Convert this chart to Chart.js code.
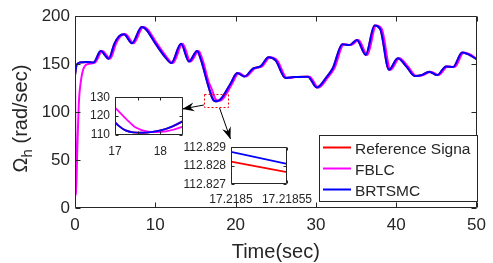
<!DOCTYPE html>
<html><head><meta charset="utf-8">
<script src="https://cdn.jsdelivr.net/npm/chart.js@4/dist/chart.umd.min.js"></script>
<style>
html,body{margin:0;padding:0;background:#fff;}
#wrap{position:relative;width:493px;height:263px;overflow:hidden;}
canvas{position:absolute;}
</style></head><body>
<div id="wrap">
<canvas id="main" style="left:0;top:0;"></canvas>
<canvas id="in1" style="left:75px;top:85px;"></canvas>
<canvas id="in2" style="left:170px;top:135px;"></canvas>
</div>
<script>
// ===== data =====
const mainXTicks = [0, 10, 20, 30, 40, 50];
const mainYTicks = [0, 50, 100, 150, 200];
const seriesLabels = ['Reference Signa', 'FBLC', 'BRTSMC'];

const brtsmcT = [0,0.2,0.6,1.5,2.3,3.2,4.2,4.9,5.5,6.1,7.1,8.3,8.8,10.0,11.2,12.0,13.2,14.2,15.2,15.7,16.5,16.95,17.07,17.22,17.4,17.6,17.83,18.05,18.27,18.48,18.6,19.4,20.2,21.1,22.2,23.1,24.1,25.0,26.2,27.3,29.0,30.1,31.3,32.1,33.3,34.2,35.1,36.2,37.3,38.0,39.1,40.2,41.3,42.3,43.2,44.1,45.1,46.2,47.1,48.2,49.0,50];
const brtsmcV = [138,149,151.5,152,151.5,163.5,155.5,171,179,181,171.5,188.5,186.5,171.5,157.5,151,171,152.5,163.5,154,130,117.9,115.1,112.6,111.4,111.2,111.7,112.7,114.6,117.1,118.6,130,140.5,137,145.5,147.5,157,153.5,135.5,136.5,136.8,125.5,136,145.5,170.5,169.8,175,159.5,190,186.5,144,156,147,137.5,138.5,142,138.5,147.5,147,162,160,155];

const fblcT = [0,0.12,0.28,0.5,0.7,1.0,1.6,2.5,3.4,4.4,5.1,5.7,6.3,7.3,8.5,9.0,10.2,11.4,12.2,13.4,14.4,15.4,15.9,16.7,17.0,17.25,17.47,17.7,17.9,18.12,18.48,18.9,19.6,20.4,21.3,22.4,23.3,24.3,25.2,26.4,27.5,29.2,30.3,31.5,32.3,33.5,34.4,35.3,36.4,37.5,38.2,39.3,40.4,41.5,42.5,43.4,44.3,45.3,46.4,47.3,48.4,49.2,50];
const fblcV = [138,13.5,60,112.5,130,143.7,150,151.5,163.5,155.5,171,179,181,171.5,188.5,186.5,171.5,157.5,151,171,152.5,163.5,154,130,124.4,118.4,113.8,111.9,111.6,111.9,114.3,119.5,130,140.5,137,145.5,147.5,157,153.5,135.5,136.5,136.8,125.5,136,145.5,170.5,169.8,175,159.5,190,186.5,144,156,147,137.5,138.5,142,138.5,147.5,147,162,160,155.5];

// reference signal lies under the BRTSMC curve everywhere it is visible
const refT = brtsmcT;
const refV = brtsmcV;

// inset 1 (zoom 17 .. 18.5)
const in1XTicks = [17, 17.5, 18];
const in1YTicks = [110, 120, 130];
// inset 2 (zoom 17.2185 .. 17.21855)
const in2XTicks = [17.2185, 17.21855];
const in2XLabels = ['17.2185', '17.21855'];
const in2YTicks = [112.827, 112.828, 112.829];
const in2YLabels = ['112.827', '112.828', '112.829'];
const in2T = [17.2185, 17.21855];
const in2Ref = [112.82822, 112.82766];
const in2Brtsmc = [112.82875, 112.8281];

// ===== helpers =====
const AXC = '#262626';
const FONT = '"Liberation Sans", Arial, sans-serif';
Chart.defaults.font.family = FONT;
Chart.defaults.color = AXC;

const pts = (t, v) => t.map((x, i) => ({x, y: v[i]}));
const setTicks = vals => scale => { scale.ticks = vals.map(v => ({value: v})); };

const boxPlugin = {
  id: 'mbox',
  beforeDraw(chart) {
    const {ctx, chartArea: a} = chart;
    ctx.save(); ctx.fillStyle = '#fff';
    ctx.fillRect(a.left, a.top, a.right - a.left, a.bottom - a.top);
    ctx.restore();
  },
  afterDatasetsDraw(chart, args, opts) {
    const {ctx, chartArea: a, scales: {x, y}} = chart;
    const L = opts.len || 4;
    ctx.save(); ctx.strokeStyle = AXC; ctx.lineWidth = 1;
    const l = Math.round(a.left) + 0.5, r = Math.round(a.right) - 0.5;
    const t = Math.round(a.top) + 0.5, b = Math.round(a.bottom) - 0.5;
    ctx.beginPath();
    ctx.rect(l, t, r - l, b - t);
    for (const tk of x.ticks) {
      const p = Math.round(x.getPixelForValue(tk.value)) + 0.5;
      ctx.moveTo(p, b); ctx.lineTo(p, b - L); ctx.moveTo(p, t); ctx.lineTo(p, t + L);
    }
    for (const tk of y.ticks) {
      const p = Math.round(y.getPixelForValue(tk.value)) + 0.5;
      ctx.moveTo(l, p); ctx.lineTo(l + L, p); ctx.moveTo(r, p); ctx.lineTo(r - L, p);
    }
    ctx.stroke(); ctx.restore();
  }
};

function arrow(ctx, x0, y0, x1, y1) {
  ctx.beginPath(); ctx.moveTo(x0, y0); ctx.lineTo(x1, y1); ctx.stroke();
  const ang = Math.atan2(y1 - y0, x1 - x0);
  ctx.save(); ctx.translate(x1, y1); ctx.rotate(ang);
  ctx.beginPath(); ctx.moveTo(0, 0); ctx.lineTo(-12, -4.5); ctx.lineTo(-8, 0); ctx.lineTo(-12, 4.5);
  ctx.closePath(); ctx.fill(); ctx.restore();
}

const overlayPlugin = {
  id: 'overlay',
  afterDraw(chart) {
    const {ctx, chartArea: a, scales: {x, y}} = chart;
    ctx.save();
    // zoom rectangle
    ctx.strokeStyle = '#ff0000'; ctx.lineWidth = 1; ctx.setLineDash([2, 2]);
    const rx0 = x.getPixelForValue(16.05), rx1 = x.getPixelForValue(19.1);
    const ry0 = y.getPixelForValue(118.4), ry1 = y.getPixelForValue(104.5);
    ctx.strokeRect(Math.round(rx0) + 0.5, Math.round(ry0) + 0.5, Math.round(rx1 - rx0), Math.round(ry1 - ry0));
    ctx.setLineDash([]);
    // arrows
    ctx.strokeStyle = '#000'; ctx.fillStyle = '#000'; ctx.lineWidth = 1;
    arrow(ctx, x.getPixelForValue(16.05), y.getPixelForValue(107.3), x.getPixelForValue(13.36), y.getPixelForValue(103.1));
    arrow(ctx, x.getPixelForValue(18.0), y.getPixelForValue(104.2), x.getPixelForValue(19.36), y.getPixelForValue(71.9));
    // legend
    const lx = 319.5, ly = 135.5, lw = 158, lh = 66;
    ctx.fillStyle = '#fff'; ctx.fillRect(lx, ly, lw, lh);
    ctx.strokeStyle = AXC; ctx.strokeRect(lx, ly, lw, lh);
    ctx.font = '15.5px ' + FONT; ctx.textBaseline = 'alphabetic'; ctx.textAlign = 'left';
    chart.data.datasets.forEach((ds, i) => {
      const yy = 147.5 + i * 21;
      ctx.strokeStyle = ds.borderColor; ctx.lineWidth = 2;
      ctx.beginPath(); ctx.moveTo(323, yy); ctx.lineTo(351, yy); ctx.stroke();
      ctx.fillStyle = AXC; ctx.fillText(ds.label, 355, yy + 6);
    });
    // x title
    ctx.fillStyle = AXC; ctx.textAlign = 'center';
    ctx.font = '20px ' + FONT;
    ctx.fillText('Time(sec)', (a.left + a.right) / 2, 258);
    // y title with subscript
    ctx.translate(27, 118.5); ctx.rotate(-Math.PI / 2);
    ctx.textAlign = 'left';
    const big = '20px ' + FONT, small = '15px ' + FONT;
    ctx.font = big; const w1 = ctx.measureText('Ω').width;
    ctx.font = small; const w2 = ctx.measureText('h').width;
    ctx.font = big; const w3 = ctx.measureText(' (rad/sec)').width;
    let u = -(w1 + w2 + w3) / 2;
    ctx.font = big; ctx.fillText('Ω', u, 0); u += w1;
    ctx.font = small; ctx.fillText('h', u, 5); u += w2;
    ctx.font = big; ctx.fillText(' (rad/sec)', u, 0);
    ctx.restore();
  }
};

const lineDs = (label, data, color, order, w) => ({
  label, data, borderColor: color, backgroundColor: color, borderWidth: w,
  pointRadius: 0, fill: false, cubicInterpolationMode: 'monotone', order
});

// ===== main chart =====
const mainCv = document.getElementById('main');
mainCv.width = 493; mainCv.height = 263;
new Chart(mainCv, {
  type: 'line',
  data: { datasets: [
    lineDs(seriesLabels[0], pts(refT, refV), '#ff0000', 2, 2),
    lineDs(seriesLabels[1], pts(fblcT, fblcV), '#ff00ff', 1, 2),
    lineDs(seriesLabels[2], pts(brtsmcT, brtsmcV), '#0000ff', 0, 2)
  ]},
  options: {
    responsive: false, animation: false, devicePixelRatio: 1,
    layout: { padding: { left: 0, right: 10, top: 16, bottom: 0 } },
    plugins: { legend: { display: false }, tooltip: { enabled: false }, mbox: { len: 5 } },
    scales: {
      x: { type: 'linear', min: 0, max: 50, afterBuildTicks: setTicks(mainXTicks),
           afterFit: s => { s.height = 55; },
           grid: { display: false, drawTicks: false }, border: { display: false },
           ticks: { padding: 7, font: { size: 17 }, color: AXC, maxRotation: 0 } },
      y: { type: 'linear', min: 0, max: 200, afterBuildTicks: setTicks(mainYTicks),
           afterFit: s => { s.width = 75; },
           grid: { display: false, drawTicks: false }, border: { display: false },
           ticks: { padding: 5, font: { size: 17 }, color: AXC } }
    }
  },
  plugins: [boxPlugin, overlayPlugin]
});

// ===== inset 1 =====
const in1 = document.getElementById('in1');
in1.width = 120; in1.height = 75;
new Chart(in1, {
  type: 'line',
  data: { datasets: [
    lineDs(seriesLabels[0], pts(refT, refV), '#ff0000', 2, 1.8),
    lineDs(seriesLabels[1], pts(fblcT, fblcV), '#ff00ff', 1, 1.8),
    lineDs(seriesLabels[2], pts(brtsmcT, brtsmcV), '#0000ff', 0, 1.8)
  ]},
  options: {
    responsive: false, animation: false, devicePixelRatio: 1,
    layout: { padding: { left: 0, right: 12, top: 9.5, bottom: 0 } },
    plugins: { legend: { display: false }, tooltip: { enabled: false }, mbox: { len: 3 } },
    scales: {
      x: { type: 'linear', min: 17, max: 18.5, afterBuildTicks: setTicks(in1XTicks),
           afterFit: s => { s.height = 25; },
           grid: { display: false, drawTicks: false }, border: { display: false },
           ticks: { padding: 9, font: { size: 12 }, color: AXC, maxRotation: 0,
                    callback: v => Number.isInteger(v) ? String(v) : '' } },
      y: { type: 'linear', min: 110, max: 130, afterBuildTicks: setTicks(in1YTicks),
           afterFit: s => { s.width = 40; },
           grid: { display: false, drawTicks: false }, border: { display: false },
           ticks: { padding: 5, font: { size: 12 }, color: AXC } }
    }
  },
  plugins: [boxPlugin]
});

// ===== inset 2 =====
const in2 = document.getElementById('in2');
in2.width = 150; in2.height = 75;
new Chart(in2, {
  type: 'line',
  data: { datasets: [
    lineDs(seriesLabels[0], pts(in2T, in2Ref), '#ff0000', 2, 1.8),
    lineDs(seriesLabels[2], pts(in2T, in2Brtsmc), '#0000ff', 0, 1.8)
  ]},
  options: {
    responsive: false, animation: false, devicePixelRatio: 1,
    layout: { padding: { left: 0, right: 33, top: 10, bottom: 0 } },
    plugins: { legend: { display: false }, tooltip: { enabled: false }, mbox: { len: 3 } },
    scales: {
      x: { type: 'linear', min: in2XTicks[0], max: in2XTicks[1], afterBuildTicks: setTicks(in2XTicks),
           afterFit: s => { s.height = 25.7; },
           grid: { display: false, drawTicks: false }, border: { display: false },
           ticks: { padding: 8, font: { size: 12 }, color: AXC, maxRotation: 0,
                    callback: (v, i) => in2XLabels[i] } },
      y: { type: 'linear', min: in2YTicks[0], max: in2YTicks[2], afterBuildTicks: setTicks(in2YTicks),
           afterFit: s => { s.width = 61; },
           grid: { display: false, drawTicks: false }, border: { display: false },
           ticks: { padding: 5, font: { size: 12 }, color: AXC, callback: (v, i) => in2YLabels[i] } }
    }
  },
  plugins: [boxPlugin]
});
</script>
</body></html>
